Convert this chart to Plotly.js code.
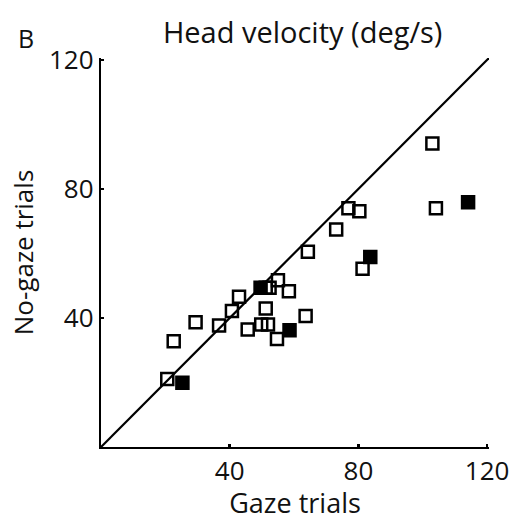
<!DOCTYPE html>
<html>
<head>
<meta charset="utf-8">
<script src="https://cdn.plot.ly/plotly-3.0.1.min.js"></script>
<style>html,body{margin:0;padding:0;background:#fff}#chart{width:513px;height:521px}</style>
</head>
<body>
<div id="chart"></div>
<script>
// Open squares (gaze trials vs no-gaze trials), head velocity deg/s
var openX = [20.6, 22.6, 29.4, 36.7, 40.7, 42.9, 45.6, 55.0, 51.2, 52.4, 58.4, 51.2, 49.8, 51.9, 54.7, 63.6, 64.3, 73.1, 76.9, 80.3, 81.3, 103.0, 104.1];
var openY = [21.1, 32.8, 38.7, 37.7, 42.2, 46.6, 36.4, 51.7, 49.4, 49.4, 48.3, 42.9, 38.0, 38.0, 33.5, 40.6, 60.5, 67.4, 74.0, 73.1, 55.3, 94.1, 74.0];
// Filled squares
var filledX = [25.3, 49.6, 58.6, 83.7, 114.1];
var filledY = [19.9, 49.4, 36.2, 58.9, 75.9];
// Identity line
var diagX = [0, 120.8];
var diagY = [0, 120.8];
var tickVals = [40, 80, 120];
var tickText = ['40', '80', '120'];

var font = 'Open Sans, Lato, sans-serif';
var traces = [
  {x: diagX, y: diagY, mode: 'lines', line: {color: '#000', width: 2.2}, hoverinfo: 'skip', cliponaxis: false},
  {x: filledX, y: filledY, mode: 'markers', marker: {symbol: 'square', size: 12, color: '#000', line: {color: '#000', width: 2.5}}, cliponaxis: false},
  {x: openX, y: openY, mode: 'markers', marker: {symbol: 'square-open', size: 12, color: '#000', line: {color: '#000', width: 2.5}}, cliponaxis: false}
];
var axisCommon = {
  range: [0, 120.6], showgrid: false, zeroline: false, showline: true, linecolor: '#000', linewidth: 2.2,
  ticks: 'inside', ticklen: 3, tickwidth: 2.5, tickcolor: '#000',
  tickvals: tickVals, ticktext: tickText, tickfont: {family: font, size: 26, color: '#111'}
};
var layout = {
  width: 513, height: 521,
  margin: {l: 101, r: 24, t: 58, b: 74},
  paper_bgcolor: '#fff', plot_bgcolor: '#fff',
  showlegend: false,
  title: {text: 'Head velocity (deg/s)', font: {family: font, size: 29, color: '#111'}, x: 0.59, xanchor: 'center', y: 0.918, yanchor: 'bottom'},
  xaxis: Object.assign({}, axisCommon, {title: {text: 'Gaze trials', font: {family: font, size: 27, color: '#111'}, standoff: 8}}),
  yaxis: Object.assign({}, axisCommon, {title: {text: 'No-gaze trials', font: {family: font, size: 26, color: '#111'}, standoff: 8}}),
  annotations: [{text: 'B', xref: 'paper', yref: 'paper', x: -0.22, y: 1.003, xanchor: 'left', yanchor: 'bottom', showarrow: false, font: {family: font, size: 25, color: '#111'}}]
};
Plotly.newPlot('chart', traces, layout, {displayModeBar: false, staticPlot: true});
</script>
</body>
</html>
